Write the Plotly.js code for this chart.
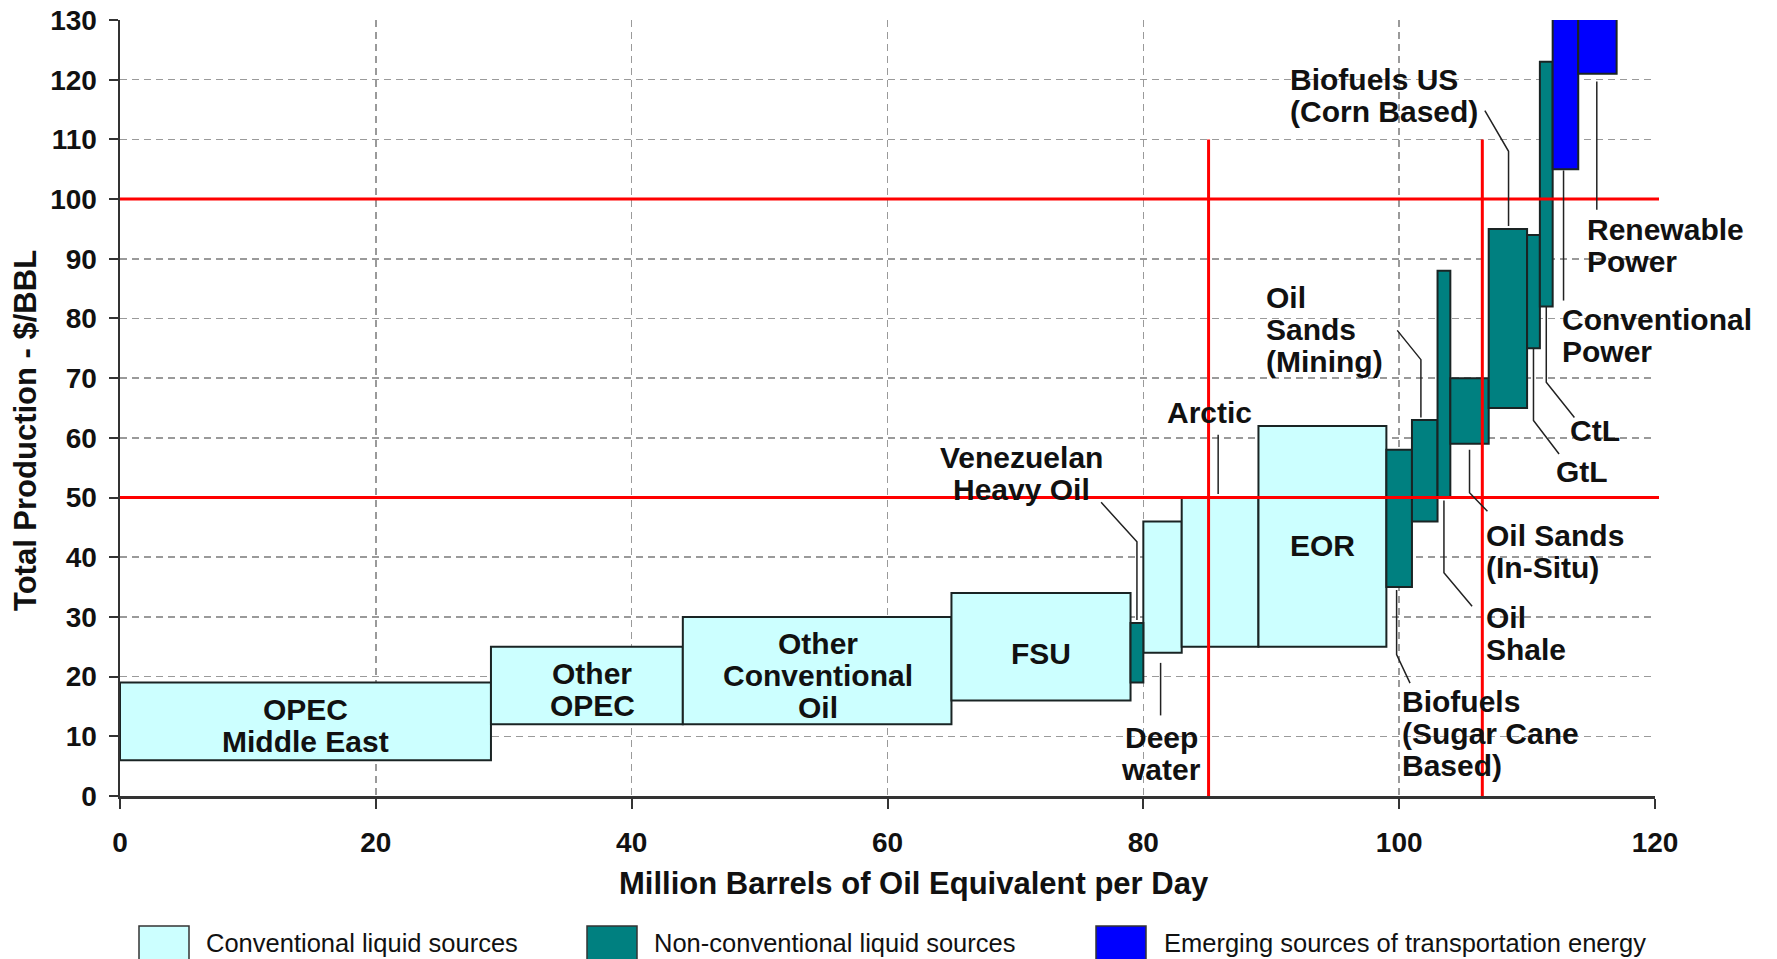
<!DOCTYPE html>
<html><head><meta charset="utf-8">
<script src="https://cdn.plot.ly/plotly-3.0.1.min.js"></script>
<style>html,body{margin:0;padding:0;background:#fff}#chart{width:1777px;height:959px}</style>
</head><body><div id="chart"></div>
<script>
// ---- data ----
const sources = ["OPEC Middle East","Other OPEC","Other Conventional Oil","FSU","Venezuelan Heavy Oil","Deep water","Arctic","EOR","Biofuels (Sugar Cane Based)","Oil Sands (Mining)","Oil Shale","Oil Sands (In-Situ)","Biofuels US (Corn Based)","GtL","CtL","Conventional Power","Renewable Power"];
const volumes = [29,15,21,14,1,3,6,10,2,2,1,3,3,1,1,2,3];
const lowCost = [6,12,12,16,19,24,25,25,35,46,50,59,65,75,82,105,121];
const highCost = [19,25,30,34,29,46,50,62,58,63,88,70,95,94,123,131,131];
const sourceGroup = [0,0,0,0,1,0,0,0,1,1,1,1,1,1,1,2,2];
const groupNames = ["Conventional liquid sources","Non-conventional liquid sources","Emerging sources of transportation energy"];
const priceLevels = [50,100];
const volumeMarkers = [85.1,106.5];
const markerTop = 110;
const xTicks = [0,20,40,60,80,100,120];
const yTicks = [0,10,20,30,40,50,60,70,80,90,100,110,120,130];

// ---- styles ----
const groupColors = ["#ccffff","#008080","#0000ff"];
const FONT = "Liberation Sans, Arial, sans-serif";

// cumulative start of each source
const starts = [];
let acc = 0;
volumes.forEach(v => { starts.push(acc); acc += v; });

const traces = groupNames.map((g, gi) => {
  const idx = sources.map((s, i) => i).filter(i => sourceGroup[i] === gi);
  return {
    type: "bar",
    name: g,
    x: idx.map(i => starts[i]),
    width: idx.map(i => volumes[i]),
    offset: 0,
    base: idx.map(i => lowCost[i]),
    y: idx.map(i => highCost[i] - lowCost[i]),
    text: idx.map(i => sources[i]),
    textposition: "none",
    hoverinfo: "text",
    cliponaxis: false,
    marker: {color: groupColors[gi], line: {color: "#1a2424", width: 2}},
    showlegend: false
  };
});

// label definitions: [text lines, x, y, anchor]
const labels = [
  [["OPEC","Middle East"], 14.5, 11.8, "center"],
  [["Other","OPEC"], 36.9, 17.9, "center"],
  [["Other","Conventional","Oil"], 54.6, 20.2, "center"],
  [["FSU"], 72, 23.8, "center"],
  [["EOR"], 94, 42, "center"],
  [["Venezuelan","Heavy Oil"], 70.5, 54, "center"],
  [["Arctic"], 85.2, 64.2, "center"],
  [["Deep","water"], 81.4, 7.2, "center"],
  [["Oil","Sands","(Mining)"], 89.4, 78.1, "left"],
  [["Biofuels US","(Corn Based)"], 91.3, 117.3, "left"],
  [["Renewable","Power"], 114.5, 92.2, "left"],
  [["Conventional","Power"], 112.6, 77.2, "left"],
  [["CtL"], 113.2, 61.2, "left"],
  [["GtL"], 112.1, 54.4, "left"],
  [["Oil Sands","(In-Situ)"], 106.6, 41, "left"],
  [["Oil","Shale"], 106.6, 27.2, "left"],
  [["Biofuels","(Sugar Cane","Based)"], 100.1, 10.5, "left"]
];
const leaders = [
  [[76.7,49.2],[79.5,42.6],[79.5,29.5]],
  [[85.85,60.5],[85.85,50.6]],
  [[81.35,22.3],[81.35,13.5]],
  [[99.85,78],[101.7,73.1],[101.7,63.4]],
  [[106.7,114.8],[108.55,108],[108.55,95.5]],
  [[115.45,119.7],[115.45,98.2]],
  [[112.85,104.8],[112.85,83]],
  [[113.7,63.4],[111.5,69.3],[111.5,82]],
  [[112.5,57.3],[110.5,62.9],[110.5,75]],
  [[106.9,47.7],[105.5,50.8],[105.5,58]],
  [[105.7,31.8],[103.5,37.4],[103.5,49.5]],
  [[100.85,18.9],[99.8,23.7],[99.8,34.5]]
];

const W = 1777, H = 959;
const M = {l: 120, r: 122, t: 20, b: 163};
const pw = W - M.l - M.r, ph = H - M.t - M.b;
const px2x = p => (p - M.l) / pw;
const py2y = p => (H - M.b - p) / ph;

const annotations = [];
const LH = 32;
labels.forEach(([lines, x, y, anchor]) => {
  const n = lines.length;
  lines.forEach((t, i) => {
    annotations.push({
      text: t, x: x, y: y, xref: "x", yref: "y",
      xanchor: anchor, yanchor: "middle", showarrow: false,
      yshift: ((n - 1) / 2 - i) * LH,
      font: {family: FONT, size: 30, color: "#111", weight: "bold"}
    });
  });
});
// axis titles
annotations.push({text: "Million Barrels of Oil Equivalent per Day", xref: "paper", yref: "paper",
  x: px2x(914), y: py2y(883), xanchor: "center", yanchor: "middle", showarrow: false,
  font: {family: FONT, size: 31, color: "#111", weight: "bold"}});
annotations.push({text: "Total Production - $/BBL", xref: "paper", yref: "paper", textangle: -90,
  x: px2x(25), y: py2y(431), xanchor: "center", yanchor: "middle", showarrow: false,
  font: {family: FONT, size: 31, color: "#111", weight: "bold"}});

const shapes = [];
priceLevels.forEach(p => shapes.push({type: "line", xref: "paper", yref: "y", x0: 0, x1: px2x(1659), y0: p, y1: p,
  line: {color: "#ff0000", width: 3}, layer: "above"}));
volumeMarkers.forEach(v => shapes.push({type: "line", xref: "x", yref: "y", x0: v, x1: v, y0: 0, y1: markerTop,
  line: {color: "#ff0000", width: 3}, layer: "above"}));
leaders.forEach(pts => shapes.push({type: "path", xref: "x", yref: "y",
  path: pts.map((p, i) => (i ? "L" : "M") + p[0] + "," + p[1]).join(" "),
  line: {color: "#222", width: 1.5}, layer: "above"}));

// manual legend
const legendItems = [[139, 204], [587, 652], [1096, 1162]];
groupNames.forEach((g, i) => {
  const [sx, tx] = legendItems[i];
  shapes.push({type: "rect", xref: "paper", yref: "paper", x0: px2x(sx), x1: px2x(sx + 50),
    y0: py2y(926), y1: py2y(975), fillcolor: groupColors[i], line: {color: "#333", width: 1.5}});
  annotations.push({text: g, xref: "paper", yref: "paper", x: px2x(tx), y: py2y(943),
    xanchor: "left", yanchor: "middle", showarrow: false,
    font: {family: FONT, size: 25.5, color: "#111"}});
});

const layout = {
  width: W, height: H,
  margin: M,
  paper_bgcolor: "#fff", plot_bgcolor: "#fff",
  barmode: "overlay",
  bargap: 0,
  showlegend: false,
  xaxis: {range: [0, 120], tickvals: xTicks, ticktext: xTicks.map(String),
    showgrid: true, gridcolor: "#9a9a9a", gridwidth: 1.5, griddash: "7px,5px",
    showline: true, linecolor: "#333", linewidth: 2.5, zeroline: false,
    ticks: "outside", ticklen: 10, tickwidth: 2, tickcolor: "#333", ticklabelstandoff: 10,
    tickfont: {family: FONT, size: 28, color: "#111", weight: "bold"}, fixedrange: true},
  yaxis: {range: [0, 130], tickvals: yTicks, ticktext: yTicks.map(String),
    showgrid: true, gridcolor: "#9a9a9a", gridwidth: 1.5, griddash: "7px,5px",
    showline: true, linecolor: "#333", linewidth: 2.5, zeroline: false,
    ticks: "outside", ticklen: 9, tickwidth: 2, tickcolor: "#333", ticklabelstandoff: 6,
    tickfont: {family: FONT, size: 28, color: "#111", weight: "bold"}, fixedrange: true},
  annotations: annotations,
  shapes: shapes
};

Plotly.newPlot("chart", traces, layout, {displayModeBar: false, staticPlot: true});
</script></body></html>
